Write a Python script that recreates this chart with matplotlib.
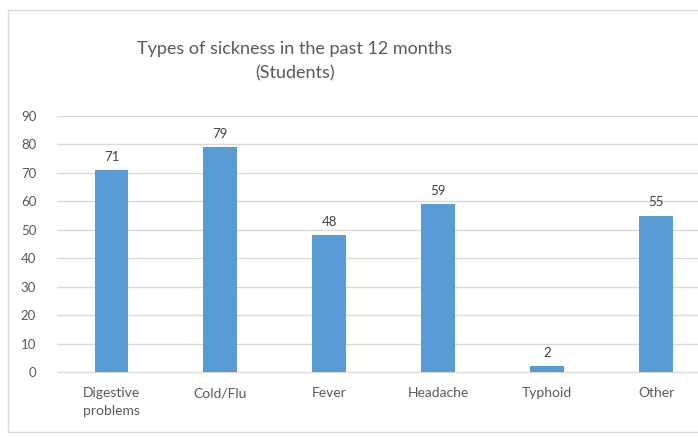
import matplotlib.pyplot as plt
from matplotlib.patches import Rectangle

categories = ['Digestive\nproblems', 'Cold/Flu', 'Fever', 'Headache', 'Typhoid', 'Other']
values = [71, 79, 48, 59, 2, 55]

fig = plt.figure(figsize=(6.98, 4.38), dpi=100)
ax = fig.add_axes([57 / 698, 1 - 372 / 438, 1 - 57 / 698, (372 - 116) / 438])

# light chart frame (right edge is cropped in the original)
fig.patches.append(Rectangle((8 / 698, 1 - 432 / 438), 1.0, (432 - 10) / 438,
                             transform=fig.transFigure, fill=False,
                             edgecolor='#d9d9d9', linewidth=1))

x = range(len(categories))
bars = ax.bar(x, values, width=0.31, color='#5b9bd5', zorder=3)
for b, v in zip(bars, values):
    ax.text(b.get_x() + b.get_width() / 2, v + 2.5, str(v), ha='center', va='bottom',
            fontsize=9.5, color='#404040', family='Lato')

ax.set_ylim(0, 90)
ax.set_yticks(range(0, 91, 10))
ax.set_xlim(-0.5, (698 - 111) / 109)
ax.set_xticks(list(x))
ax.set_xticklabels(categories, fontsize=10, color='#595959', family='Lato',
                   linespacing=1.6)
for lbl in ax.get_yticklabels():
    lbl.set_fontsize(9.5)
    lbl.set_color('#595959')
    lbl.set_family('Lato')
ax.yaxis.grid(True, color='#d9d9d9', linewidth=1, zorder=0)
ax.tick_params(length=0, pad=11)
ax.tick_params(axis='y', pad=15)
for s in ax.spines.values():
    s.set_visible(False)
ax.spines['bottom'].set_visible(True)
ax.spines['bottom'].set_color('#d9d9d9')

fig.text(295 / 698, 1 - 61 / 438, 'Types of sickness in the past 12 months\n(Students)',
         ha='center', va='center', fontsize=13, color='#595959', family='Lato',
         linespacing=1.6)

fig.savefig('out.png', dpi=100)
